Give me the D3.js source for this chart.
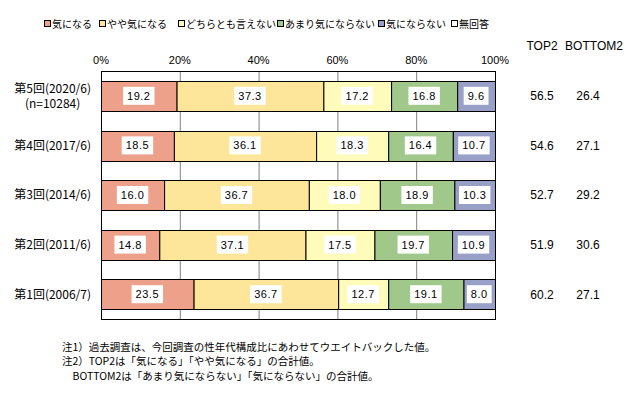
<!DOCTYPE html>
<html>
<head>
<meta charset="utf-8">
<script src="https://cdn.jsdelivr.net/npm/d3@7"></script>
<style>
  body { margin: 0; background: #fff; }
  svg { display: block; }
  text { font-family: "Noto Sans CJK JP", "DejaVu Sans", sans-serif; fill: #000; }
  .num { font-family: "Liberation Sans", Arial, sans-serif; }
</style>
</head>
<body>
<div id="chart"></div>
<script>
const width = 634, height = 393;

// data
const rounds = ["第5回(2020/6)", "第4回(2017/6)", "第3回(2014/6)", "第2回(2011/6)", "第1回(2006/7)"];
const roundSub = ["(n=10284)", "", "", "", ""];
const seriesNames = ["気になる", "やや気になる", "どちらとも言えない", "あまり気にならない", "気にならない", "無回答"];
const seriesColors = ["#eda08a", "#fde699", "#fffcbb", "#a0c88a", "#99a0c8", "#ffffff"];
const kininaru    = [19.2, 18.5, 16.0, 14.8, 23.5];
const yaya        = [37.3, 36.1, 36.7, 37.1, 36.7];
const dochira     = [17.2, 18.3, 18.0, 17.5, 12.7];
const amari       = [16.8, 16.4, 18.9, 19.7, 19.1];
const kininaranai = [9.6, 10.7, 10.3, 10.9, 8.0];
const mukaitou    = [0, 0, 0, 0, 0];
const top2    = ["56.5", "54.6", "52.7", "51.9", "60.2"];
const bottom2 = ["26.4", "27.1", "29.2", "30.6", "27.1"];
const xTicks = [0, 20, 40, 60, 80, 100];
const notes = [
  "注1）過去調査は、今回調査の性年代構成比にあわせてウエイトバックした値。",
  "注2）TOP2は「気になる」「やや気になる」の合計値。",
  "　BOTTOM2は「あまり気にならない」「気にならない」の合計値。"
];

const seriesValues = [kininaru, yaya, dochira, amari, kininaranai, mukaitou];

const plot = { left: 101, right: 495, top: 71, bottom: 319 };

const svg = d3.select("#chart").append("svg")
  .attr("width", width)
  .attr("height", height)
  .attr("viewBox", [0, 0, width, height]);

const x = d3.scaleLinear().domain([0, 100]).range([plot.left, plot.right]);
const y = d3.scaleBand().domain(rounds).range([plot.top, plot.bottom])
  .paddingInner(0.4).paddingOuter(0.2);

// stacked rows, normalised to 100%
const rows = rounds.map((r, i) => {
  const vals = seriesValues.map(s => s[i]);
  const total = d3.sum(vals);
  let acc = 0;
  return vals.map((v, k) => {
    const seg = { round: r, k, v, x0: acc / total * 100, x1: (acc + v) / total * 100 };
    acc += v;
    return seg;
  });
});

// grid lines
svg.append("g").selectAll("line")
  .data(xTicks.filter(t => t > 0 && t < 100))
  .join("line")
  .attr("x1", d => x(d) + 0.5).attr("x2", d => x(d) + 0.5)
  .attr("y1", plot.top).attr("y2", plot.bottom)
  .attr("stroke", "#808080").attr("stroke-width", 1);

// bars
const segs = rows.flat();
svg.append("g").selectAll("rect")
  .data(segs.filter(d => d.v > 0))
  .join("rect")
  .attr("x", d => x(d.x0) + 0.5)
  .attr("width", d => x(d.x1) - x(d.x0))
  .attr("y", d => Math.round(y(d.round)) + 0.5)
  .attr("height", Math.round(y.bandwidth()))
  .attr("fill", d => seriesColors[d.k])
  .attr("stroke", "#000").attr("stroke-width", 1);

// plot frame
svg.append("rect")
  .attr("x", plot.left + 0.5).attr("y", plot.top + 0.5)
  .attr("width", plot.right - plot.left).attr("height", plot.bottom - plot.top)
  .attr("fill", "none").attr("stroke", "#000").attr("stroke-width", 1);

// value labels in white boxes
const lab = svg.append("g").selectAll("g")
  .data(segs.filter(d => d.v > 0))
  .join("g")
  .attr("transform", d => `translate(${x((d.x0 + d.x1) / 2)},${y(d.round) + y.bandwidth() / 2})`);
lab.append("text")
  .attr("class", "num")
  .attr("text-anchor", "middle").attr("dy", "0.36em")
  .attr("font-size", 11)
  .attr("letter-spacing", 0.5)
  .text(d => d.v.toFixed(1));
lab.insert("rect", "text")
  .each(function () {
    const t = this.parentNode.querySelector("text");
    const w = t.getComputedTextLength();
    d3.select(this)
      .attr("x", -w / 2 - 4).attr("width", w + 8)
      .attr("y", -9).attr("height", 18)
      .attr("fill", "#fff");
  });

// x axis labels
svg.append("g").selectAll("text")
  .data(xTicks)
  .join("text")
  .attr("class", "num")
  .attr("x", d => x(d)).attr("y", 64)
  .attr("text-anchor", "middle")
  .attr("font-size", 11)
  .text(d => d + "%");

// category labels
const cat = svg.append("g").selectAll("g")
  .data(rounds)
  .join("g");
cat.each(function (d, i) {
  const g = d3.select(this);
  const cy = y(d) + y.bandwidth() / 2;
  const main = g.append("text")
    .attr("x", 91).attr("text-anchor", "end")
    .attr("font-size", 12)
    .attr("y", roundSub[i] ? cy - 7.5 : cy).attr("dy", "0.36em")
    .text(d);
  if (roundSub[i]) {
    const w = main.node().getComputedTextLength();
    g.append("text")
      .attr("x", 91 - w / 2).attr("text-anchor", "middle")
      .attr("font-size", 12)
      .attr("y", cy + 8).attr("dy", "0.36em")
      .text(roundSub[i]);
  }
});

// TOP2 / BOTTOM2 columns
svg.append("text").attr("class", "num")
  .attr("x", 542).attr("y", 50).attr("text-anchor", "middle")
  .attr("font-size", 12).text("TOP2");
svg.append("text").attr("class", "num")
  .attr("x", 594).attr("y", 50).attr("text-anchor", "middle")
  .attr("font-size", 12).text("BOTTOM2");
svg.append("g").selectAll("text")
  .data(rounds)
  .join("text")
  .attr("class", "num")
  .attr("x", 542).attr("y", d => y(d) + y.bandwidth() / 2).attr("dy", "0.36em")
  .attr("text-anchor", "middle").attr("font-size", 12)
  .text((d, i) => top2[i]);
svg.append("g").selectAll("text")
  .data(rounds)
  .join("text")
  .attr("class", "num")
  .attr("x", 588).attr("y", d => y(d) + y.bandwidth() / 2).attr("dy", "0.36em")
  .attr("text-anchor", "middle").attr("font-size", 12)
  .text((d, i) => bottom2[i]);

// legend
const legendX = [44, 99, 178, 277, 378, 451];
const leg = svg.append("g").selectAll("g")
  .data(seriesNames)
  .join("g")
  .attr("transform", (d, i) => `translate(${legendX[i]},24)`);
leg.append("rect")
  .attr("x", 0.5).attr("y", -3.5).attr("width", 6).attr("height", 6)
  .attr("fill", (d, i) => seriesColors[i])
  .attr("stroke", "#000").attr("stroke-width", 1);
leg.append("text")
  .attr("x", 8).attr("dy", "0.36em")
  .attr("font-size", 10)
  .text(d => d);

// notes
svg.append("g").selectAll("text")
  .data(notes)
  .join("text")
  .attr("x", 62).attr("y", (d, i) => 347 + i * 14.5).attr("dy", "0.36em")
  .attr("font-size", 10.5)
  .text(d => d);
</script>
</body>
</html>
